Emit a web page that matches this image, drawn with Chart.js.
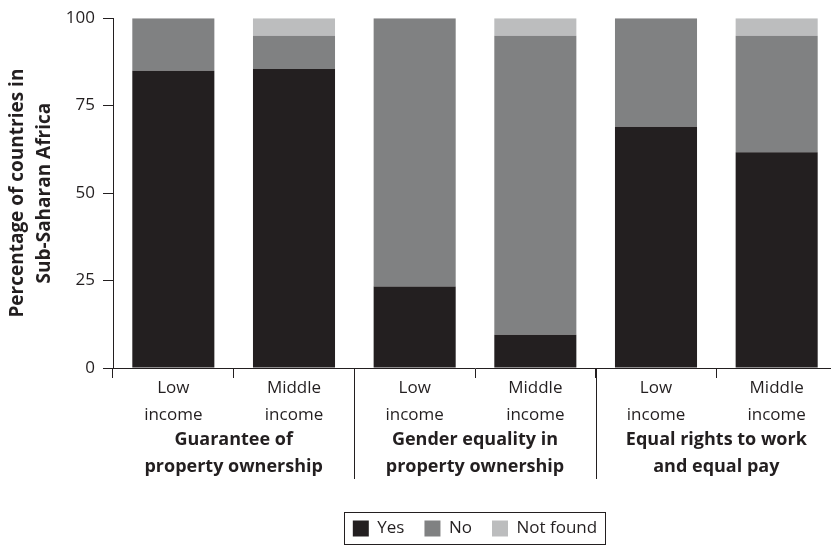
<!DOCTYPE html>
<html>
<head>
<meta charset="utf-8">
<script src="https://cdn.jsdelivr.net/npm/chart.js@4/dist/chart.umd.min.js"></script>
<style>
  html, body { margin: 0; padding: 0; background: #fff; overflow: hidden; }
  #wrap { width: 837px; height: 545px; }
</style>
</head>
<body>
<div id="wrap"><canvas id="c"></canvas></div>
<script>
const tickLabels = [['Low','income'],['Middle','income'],['Low','income'],['Middle','income'],['Low','income'],['Middle','income']];
const groupLabels = [['Guarantee of','property ownership'],['Gender equality in','property ownership'],['Equal rights to work','and equal pay']];
const yesValues = [85, 85.5, 23.3, 9.5, 69, 61.7];
const noValues = [15, 9.5, 76.7, 85.5, 31, 33.3];
const notFoundValues = [0, 5, 0, 5, 0, 5];
const yTicks = [0, 25, 50, 75, 100];

const INK = '#231f20';
const FONT = '"Open Sans", "Noto Sans", sans-serif';

const groupPlugin = {
  id: 'groups',
  afterDraw(chart) {
    const ctx = chart.ctx;
    const x = chart.scales.x;
    const half = (x.getPixelForValue(1) - x.getPixelForValue(0)) / 2;
    ctx.save();
    ctx.strokeStyle = INK;
    ctx.lineWidth = 1;
    // group divider lines
    for (let g = 1; g < groupLabels.length; g++) {
      const px = Math.round(x.getPixelForValue(g * 2) - half) + 0.5;
      ctx.beginPath();
      ctx.moveTo(px, x.top);
      ctx.lineTo(px, x.top + 111);
      ctx.stroke();
    }
    // group labels
    ctx.fillStyle = INK;
    ctx.font = 'bold 18px ' + FONT;
    ctx.textAlign = 'center';
    ctx.textBaseline = 'alphabetic';
    groupLabels.forEach((lines, g) => {
      const cx = (x.getPixelForValue(g * 2) + x.getPixelForValue(g * 2 + 1)) / 2;
      lines.forEach((t, i) => ctx.fillText(t, cx, x.top + 77 + i * 27));
    });
    // legend border
    const lg = chart.legend;
    if (lg && lg.legendHitBoxes && lg.legendHitBoxes.length) {
      const hb = lg.legendHitBoxes;
      let l = Infinity, r = -Infinity, t = Infinity, b = -Infinity;
      hb.forEach(h => { l = Math.min(l, h.left); r = Math.max(r, h.left + h.width); t = Math.min(t, h.top); b = Math.max(b, h.top + h.height); });
      ctx.strokeRect(Math.round(l - 9) + 0.5, Math.round(t - 8) + 0.5, Math.round(r - l + 17), Math.round(b - t + 15));
    }
    ctx.restore();
  }
};

new Chart(document.getElementById('c'), {
  type: 'bar',
  data: {
    labels: tickLabels,
    datasets: [
      { label: 'Yes', data: yesValues, backgroundColor: '#231f20' },
      { label: 'No', data: noValues, backgroundColor: '#808182' },
      { label: 'Not found', data: notFoundValues, backgroundColor: '#bcbdbe' }
    ]
  },
  options: {
    responsive: true,
    maintainAspectRatio: false,
    animation: false,
    layout: { padding: { left: 0, right: 0, top: 13, bottom: -2 } },
    datasets: { bar: { categoryPercentage: 1, barPercentage: 0.68, borderWidth: 0 } },
    plugins: {
      tooltip: { enabled: false },
      legend: {
        position: 'bottom',
        fullSize: false,
        labels: {
          boxWidth: 16, boxHeight: 16, padding: 20,
          color: INK,
          font: { family: FONT, size: 17 },
          useBorderRadius: false
        }
      }
    },
    scales: {
      x: {
        stacked: true,
        offset: true,
        grid: { display: true, offset: true, drawOnChartArea: false, drawTicks: true, tickLength: 10, color: INK, lineWidth: 1 },
        border: { display: true, color: INK, width: 1 },
        ticks: { color: INK, font: { family: FONT, size: 17, lineHeight: 27/17 }, padding: -3, maxRotation: 0, autoSkip: false },
        afterFit(s) { s.height = 132; }
      },
      y: {
        stacked: true,
        min: 0, max: 100,
        afterBuildTicks(s) { s.ticks = yTicks.map(v => ({ value: v })); },
        grid: { display: true, drawOnChartArea: false, drawTicks: true, tickLength: 10, color: INK, lineWidth: 1 },
        border: { display: true, color: INK, width: 1 },
        ticks: { color: INK, font: { family: FONT, size: 17 }, padding: 8 },
        title: {
          display: true,
          text: ['Percentage of countries in', 'Sub-Saharan Africa'],
          color: INK,
          font: { family: FONT, size: 19, weight: 'bold', lineHeight: 27/19 },
          padding: { top: 4, bottom: 4 }
        },
        afterFit(s) { s.width = 113; }
      }
    }
  },
  plugins: [groupPlugin]
});
</script>
</body>
</html>
